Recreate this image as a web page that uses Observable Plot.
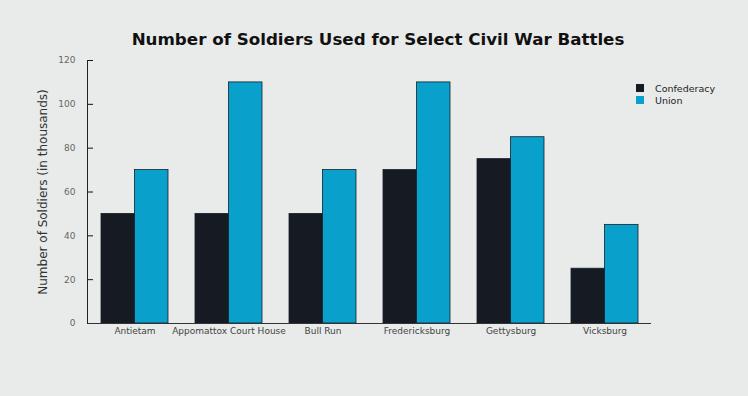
<!DOCTYPE html>
<html>
<head>
<meta charset="utf-8">
<script src="https://cdn.jsdelivr.net/npm/d3@7"></script>
<script src="https://cdn.jsdelivr.net/npm/@observablehq/plot@0.6"></script>
<style>
  html, body { margin: 0; padding: 0; background: #e9ebea; }
  #wrap { position: relative; width: 748px; height: 396px; font-family: "DejaVu Sans", sans-serif; }
  #title { position: absolute; left: 0; width: 756px; top: 29px; text-align: center; font-weight: bold; font-size: 16.7px; color: #111; }
  #legend { position: absolute; left: 636px; top: 82px; font-size: 9.5px; color: #222; }
  #legend div { display: flex; align-items: center; height: 12px; }
  #legend span.sw { display: inline-block; width: 8px; height: 8px; margin-right: 11px; }
  svg { display: block; }
</style>
</head>
<body>
<div id="wrap">
  <div id="title">Number of Soldiers Used for Select Civil War Battles</div>
  <div id="legend"></div>
</div>
<script>
const battles = ["Antietam", "Appomattox Court House", "Bull Run", "Fredericksburg", "Gettysburg", "Vicksburg"];
const confederacy = [50, 50, 50, 70, 75, 25];
const union = [70, 110, 70, 110, 85, 45];
const sides = ["Confederacy", "Union"];
const colors = ["#161a22", "#0aa0cc"];
const yTicks = [0, 20, 40, 60, 80, 100, 120];

const confData = battles.map((b, i) => ({battle: b, side: "Confederacy", value: confederacy[i]}));
const unionData = battles.map((b, i) => ({battle: b, side: "Union", value: union[i]}));

const chart = Plot.plot({
  width: 748,
  height: 396,
  marginTop: 60,
  marginBottom: 73,
  marginLeft: 87,
  marginRight: 97,
  style: {background: "transparent", fontFamily: "DejaVu Sans, sans-serif"},
  x: {domain: battles, paddingInner: 0.29, paddingOuter: 0.14},
  y: {domain: [0, 120]},
  color: {domain: sides, range: colors},
  marks: [
    Plot.barY(confData, {x: "battle", y: "value", fill: d => d.side, insetRight: 33.5, stroke: "#14202a", strokeWidth: 0.8}),
    Plot.barY(unionData, {x: "battle", y: "value", fill: d => d.side, insetLeft: 33.5, stroke: "#14202a", strokeWidth: 0.8}),
    Plot.axisX({tickSize: 0, tickPadding: 4, fontSize: 9, fill: "#444", label: null}),
    Plot.axisY({ticks: yTicks, tickSize: 0, tickPadding: 12, fontSize: 9, fill: "#666",
      label: "Number of Soldiers (in thousands)", labelAnchor: "center", labelArrow: "none", labelOffset: 49}),
    Plot.axisY({ticks: yTicks, tickSize: 6, dx: 6, tickFormat: () => "", label: null, stroke: "#111"}),
    Plot.ruleY([0], {stroke: "#333"}),
    Plot.frame({anchor: "left", stroke: "#222"})
  ]
});
document.getElementById("wrap").appendChild(chart);

const legend = d3.select("#legend");
sides.forEach((s, i) => {
  const row = legend.append("div");
  row.append("span").attr("class", "sw").style("background", colors[i]);
  row.append("span").text(s);
});
d3.select(chart).selectAll("g[aria-label='y-axis label']").style("font-size", "12px").style("fill", "#333");
</script>
</body>
</html>
